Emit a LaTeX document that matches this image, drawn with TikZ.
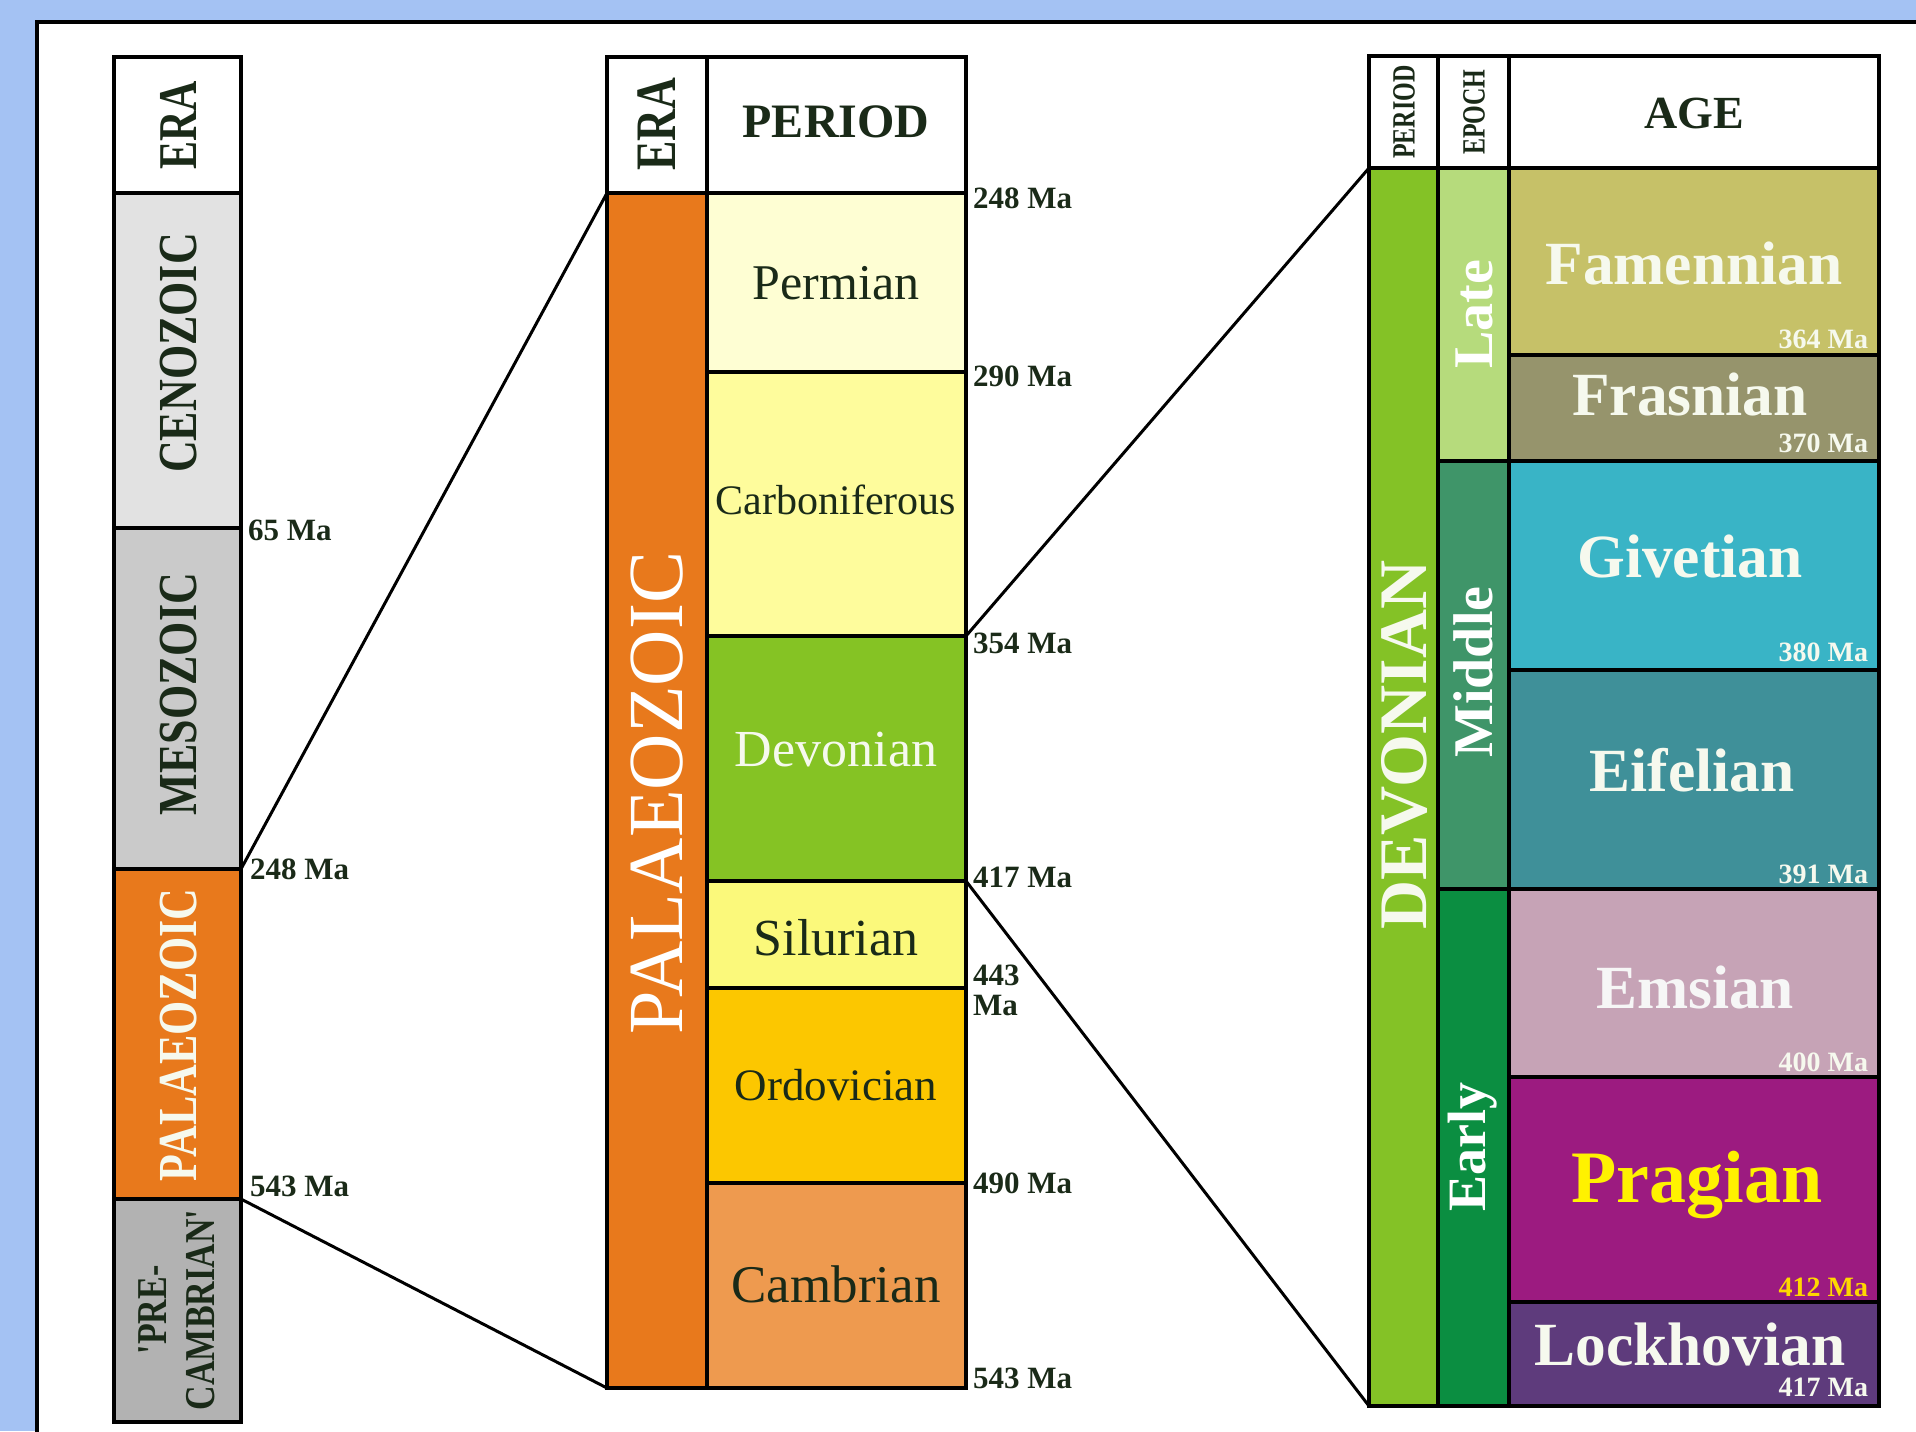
\documentclass[tikz,border=0pt]{standalone}
\usepackage{fontspec}
\setmainfont{Liberation Serif}
\newfontfamily\noligs[Ligatures=TeXOff]{Liberation Serif}
\usepackage{graphicx}
\definecolor{bgblue}{HTML}{A4C2F3}
\definecolor{cenoz}{HTML}{E2E2E2}
\definecolor{mesoz}{HTML}{CACACA}
\definecolor{precamb}{HTML}{B2B2B2}
\definecolor{palorange}{HTML}{E8791C}
\definecolor{permianc}{HTML}{FEFED3}
\definecolor{carbonc}{HTML}{FEFC9C}
\definecolor{devonc}{HTML}{85C324}
\definecolor{silurc}{HTML}{FBF97B}
\definecolor{ordovc}{HTML}{FCC700}
\definecolor{cambc}{HTML}{EE9A4F}
\definecolor{devp}{HTML}{84C226}
\definecolor{latec}{HTML}{B6DB7C}
\definecolor{middlec}{HTML}{3F9569}
\definecolor{earlyc}{HTML}{0B8E41}
\definecolor{famenc}{HTML}{C6C168}
\definecolor{frasnc}{HTML}{96946C}
\definecolor{givetc}{HTML}{39B4C6}
\definecolor{eifelc}{HTML}{3F9099}
\definecolor{emsianc}{HTML}{C6A3B6}
\definecolor{pragianc}{HTML}{9C1B80}
\definecolor{lockhc}{HTML}{5E3B7C}
\definecolor{darktxt}{HTML}{1A2A18}
\definecolor{paletxt}{HTML}{F6F9EE}
\definecolor{prayellow}{HTML}{FFF200}
\definecolor{mayellow}{HTML}{FFD700}
\newcommand\fsz[1]{\fontsize{#1}{#1}\selectfont}
\newcommand\cellbox[6]{\node[cellst, fill=#6, minimum width={(#4-#2)*0.5pt}, minimum height={(#5-#3)*0.5pt}] (#1) at ({(#2+#4)/2},{(#3+#5)/2}) {};}
\tikzset{
  cellst/.style={rectangle, draw=black, line width=1.6pt, inner sep=0pt, outer sep=0pt},
  lbl/.style={inner sep=0pt, outer sep=0pt, text depth=0pt},
  rot/.style={rotate=90},
  conn/.style={draw=black, line width=1.5pt},
  mawest/.style={lbl, anchor=west, font=\fsz{15.5}\bfseries, text=darktxt, text height=10.4pt},
  maeast/.style={lbl, anchor=east, font=\fsz{14}\bfseries, text height=9.5pt},
  agetxt/.style={lbl, font=\fsz{30.7}\bfseries, text height=20.3pt},
  eratxt/.style={lbl, rot, font=\fsz{22}\bfseries, text height=18.2pt},
  epochtxt/.style={lbl, rot, font=\fsz{28}\bfseries, text=white, text height=18.5pt},
  smallhead/.style={lbl, rot, font=\fsz{12}\bfseries, text=darktxt, text height=10.7pt}
}
\begin{document}
\begin{tikzpicture}[x=0.5pt,y=-0.5pt]
\useasboundingbox (0,0) rectangle (1916,1431);
\begin{scope}
\clip (0,0) rectangle (1916,1431);
\fill[bgblue] (0,0) rectangle (1916,1431);
\draw[fill=white, line width=2pt] (37,22) rectangle (1980,1480);

% ---------- left column ----------
\cellbox{lera}{114}{57}{241}{193}{white}
\cellbox{lceno}{114}{193}{241}{528}{cenoz}
\cellbox{lmeso}{114}{528}{241}{869}{mesoz}
\cellbox{lpal}{114}{869}{241}{1199}{palorange}
\cellbox{lpre}{114}{1199}{241}{1422}{precamb}

\node[lbl, rot, font=\fsz{21}\bfseries, text=darktxt, text height=18.1pt] (tlera) at (178,125) {\scalebox{1}[1.3]{ERA}};
\node[eratxt, text=darktxt] (tceno) at (178,353) {\scalebox{1}[1.25]{CENOZOIC}};
\node[eratxt, text=darktxt] (tmeso) at (178,694) {\scalebox{1}[1.25]{MESOZOIC}};
\node[eratxt, text=paletxt] (tlpal) at (178,1035) {\scalebox{1}[1.25]{PALAEOZOIC}};
\node[inner sep=0pt, rot, font=\noligs\fontsize{17}{19}\selectfont\bfseries, text=darktxt] (tpre) at (181,1310) {\scalebox{1}[1.25]{\begin{tabular}{@{}c@{}}'PRE-\\CAMBRIAN'\end{tabular}}};

\node[mawest] (ma65) at (248,530) {65 Ma};
\node[mawest] (ma248l) at (250,869) {248 Ma};
\node[mawest] (ma543l) at (250,1186) {543 Ma};

% ---------- middle column ----------
\cellbox{mera}{607}{57}{707}{193}{white}
\cellbox{mperh}{707}{57}{966}{193}{white}
\cellbox{mpal}{607}{193}{707}{1388}{palorange}
\cellbox{mperm}{707}{193}{966}{372}{permianc}
\cellbox{mcarb}{707}{372}{966}{636}{carbonc}
\cellbox{mdev}{707}{636}{966}{881}{devonc}
\cellbox{msil}{707}{881}{966}{988}{silurc}
\cellbox{mord}{707}{988}{966}{1183}{ordovc}
\cellbox{mcamb}{707}{1183}{966}{1388}{cambc}

\node[lbl, rot, font=\fsz{22}\bfseries, text=darktxt, text height=18.9pt] (tmera) at (657,124) {\scalebox{1}[1.3]{ERA}};
\node[lbl, font=\fsz{24}\bfseries, text=darktxt, text height=15.9pt] (tmperh) at (836,122) {PERIOD};
\node[lbl, rot, font=\fsz{39}, text=white, text height=25.8pt] (tmpal) at (657,793) {PALAEOZOIC};
\node[lbl, font=\fsz{25}, text=darktxt, text height=16.5pt] (tperm) at (836,283) {Permian};
\node[lbl, font=\fsz{21}, text=darktxt, text height=13.9pt] (tcarb) at (836,501) {Carboniferous};
\node[lbl, font=\fsz{26}, text=paletxt, text height=17.2pt] (tdev) at (836,749) {Devonian};
\node[lbl, font=\fsz{26}, text=darktxt, text height=17.2pt] (tsil) at (836,938) {Silurian};
\node[lbl, font=\fsz{22.5}, text=darktxt, text height=14.9pt] (tord) at (836,1086) {Ordovician};
\node[lbl, font=\fsz{26.5}, text=darktxt, text height=17.5pt] (tcamb) at (836,1285) {Cambrian};

\node[mawest] (ma248m) at (973,198) {248 Ma};
\node[mawest] (ma290) at (973,376) {290 Ma};
\node[mawest] (ma354) at (973,643) {354 Ma};
\node[mawest] (ma417m) at (973,877) {417 Ma};
\node[mawest] (ma443) at (973,975) {443};
\node[mawest] (ma443b) at (973,1005) {Ma};
\node[mawest] (ma490) at (973,1183) {490 Ma};
\node[mawest] (ma543m) at (973,1378) {543 Ma};

% ---------- right column ----------
\cellbox{rperh}{1369}{56}{1438}{168}{white}
\cellbox{reph}{1438}{56}{1509}{168}{white}
\cellbox{rageh}{1509}{56}{1879}{168}{white}
\cellbox{rdev}{1369}{168}{1438}{1406}{devp}
\cellbox{rlate}{1438}{168}{1509}{461}{latec}
\cellbox{rmid}{1438}{461}{1509}{889}{middlec}
\cellbox{rearly}{1438}{889}{1509}{1406}{earlyc}
\cellbox{rfam}{1509}{168}{1879}{355}{famenc}
\cellbox{rfras}{1509}{355}{1879}{461}{frasnc}
\cellbox{rgiv}{1509}{461}{1879}{670}{givetc}
\cellbox{reif}{1509}{670}{1879}{889}{eifelc}
\cellbox{rems}{1509}{889}{1879}{1077}{emsianc}
\cellbox{rprag}{1509}{1077}{1879}{1302}{pragianc}
\cellbox{rlock}{1509}{1302}{1879}{1406}{lockhc}

\node[smallhead] (trperh) at (1404,112) {\scalebox{1}[1.35]{PERIOD}};
\node[smallhead] (treph) at (1474,112) {\scalebox{1}[1.35]{EPOCH}};
\node[lbl, font=\fsz{23}\bfseries, text=darktxt, text height=15.2pt] (trage) at (1694,113) {AGE};
\node[lbl, rot, font=\fsz{34}\bfseries, text=paletxt, text height=22.5pt] (trdev) at (1404,745) {DEVONIAN};
\node[epochtxt] (tlate) at (1474,314) {Late};
\node[epochtxt] (tmid) at (1474,672) {Middle};
\node[epochtxt, font=\fsz{27}\bfseries, text height=17.9pt] (tearly) at (1468,1147) {Early};

\node[agetxt, text=paletxt] (tfam) at (1694,264) {Famennian};
\node[agetxt, text=paletxt] (tfras) at (1690,395) {Frasnian};
\node[agetxt, text=paletxt] (tgiv) at (1690,557) {Givetian};
\node[agetxt, text=paletxt] (teif) at (1692,771) {Eifelian};
\node[agetxt, text=white!93!gray] (tems) at (1695,988) {Emsian};
\node[lbl, font=\fsz{37}\bfseries, text=prayellow, text height=24.5pt] (tprag) at (1697,1178) {Pragian};
\node[agetxt, text=paletxt] (tlock) at (1690,1345) {Lockhovian};

\node[maeast, text=paletxt] (ma364) at (1868,339) {364 Ma};
\node[maeast, text=paletxt] (ma370) at (1868,443) {370 Ma};
\node[maeast, text=paletxt] (ma380) at (1868,652) {380 Ma};
\node[maeast, text=paletxt] (ma391) at (1868,874) {391 Ma};
\node[maeast, text=paletxt] (ma400) at (1868,1062) {400 Ma};
\node[maeast, text=mayellow] (ma412) at (1868,1287) {412 Ma};
\node[maeast, text=paletxt] (ma417r) at (1868,1387) {417 Ma};

% ---------- connectors ----------
\draw[conn] (lmeso.south east) -- (mpal.north west);
\draw[conn] (lpal.south east) -- (mpal.south west);
\draw[conn] (mdev.north east) -- (rdev.north west);
\draw[conn] (mdev.south east) -- (rdev.south west);
\end{scope}
\end{tikzpicture}
\end{document}
